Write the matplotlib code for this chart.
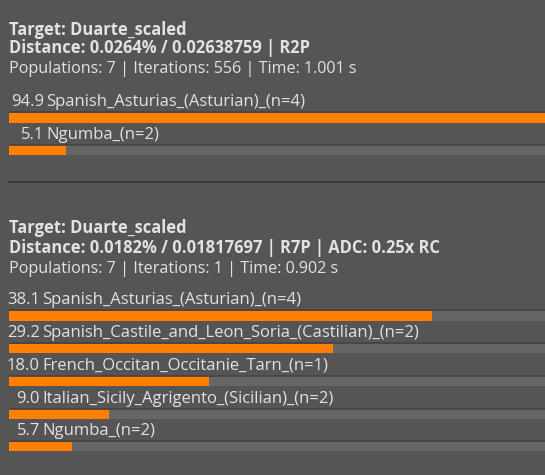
import matplotlib
matplotlib.use('Agg')
import matplotlib.pyplot as plt

# panel 1
p1_header = ["Target: Duarte_scaled",
             "Distance: 0.0264% / 0.02638759 | R2P",
             "Populations: 7 | Iterations: 556 | Time: 1.001 s"]
p1_names = ["Spanish_Asturias_(Asturian)_(n=4)", "Ngumba_(n=2)"]
p1_values = [94.9, 5.1]

# panel 2
p2_header = ["Target: Duarte_scaled",
             "Distance: 0.0182% / 0.01817697 | R7P | ADC: 0.25x RC",
             "Populations: 7 | Iterations: 1 | Time: 0.902 s"]
p2_names = ["Spanish_Asturias_(Asturian)_(n=4)",
            "Spanish_Castile_and_Leon_Soria_(Castilian)_(n=2)",
            "French_Occitan_Occitanie_Tarn_(n=1)",
            "Italian_Sicily_Agrigento_(Sicilian)_(n=2)",
            "Ngumba_(n=2)"]
p2_values = [38.1, 29.2, 18.0, 9.0, 5.7]

W, H = 545, 475
BG = '#555555'
TRACK = '#666666'
ORANGE = '#ff8000'
TXT = '#e2e2e2'
FONT = ['Open Sans', 'DejaVu Sans']

fig = plt.figure(figsize=(W / 100, H / 100), dpi=100, facecolor=BG)

# text layer in pixel coordinates
tx = fig.add_axes([0, 0, 1, 1])
tx.set_xlim(0, W)
tx.set_ylim(H, 0)
tx.axis('off')

# bar layer: x in percent, 0..100 spans ~1111 px (clipped by the image)
bx = fig.add_axes([9 / W, 0, 1111 / W, 1], zorder=-1)
bx.set_xlim(0, 100)
bx.set_ylim(H, 0)
bx.axis('off')
bx.patch.set_alpha(0)


def draw_panel(header, names, values, head_y, bar_top0, step, num_x):
    tx.text(9, head_y[0], header[0], fontsize=11.9, fontweight='bold',
            color=TXT, family=FONT, va='baseline')
    tx.text(9, head_y[1], header[1], fontsize=11.9, fontweight='bold',
            color=TXT, family=FONT, va='baseline')
    tx.text(9, head_y[2], header[2], fontsize=11.6, color=TXT,
            family=FONT, va='baseline')
    for i, (name, val) in enumerate(zip(names, values)):
        top = bar_top0 + i * step
        bx.barh(top, 100, height=9.5, left=0, align='edge', color=TRACK)
        bx.barh(top, val, height=9.5, left=0, align='edge', color=ORANGE)
        bx.hlines(top - 0.6, 0, 100, color='#454545', linewidth=1.2)
        tx.text(num_x, top - 6.5, f"{val:.1f}", fontsize=12.0, color=TXT,
                family=FONT, ha='right', va='baseline')
        tx.text(num_x + 2, top - 6.5, name, fontsize=12.0, color=TXT,
                family=FONT, ha='left', va='baseline')


draw_panel(p1_header, p1_names, p1_values, [34.7, 53.3, 72.7], 113, 32.3, 44)

# separator
tx.hlines(182, 8, W, color='#353535', linewidth=1.2)

draw_panel(p2_header, p2_names, p2_values, [233.3, 252.7, 272.7], 311, 32.7, 40)

fig.savefig('out.png', dpi=100, facecolor=BG)
